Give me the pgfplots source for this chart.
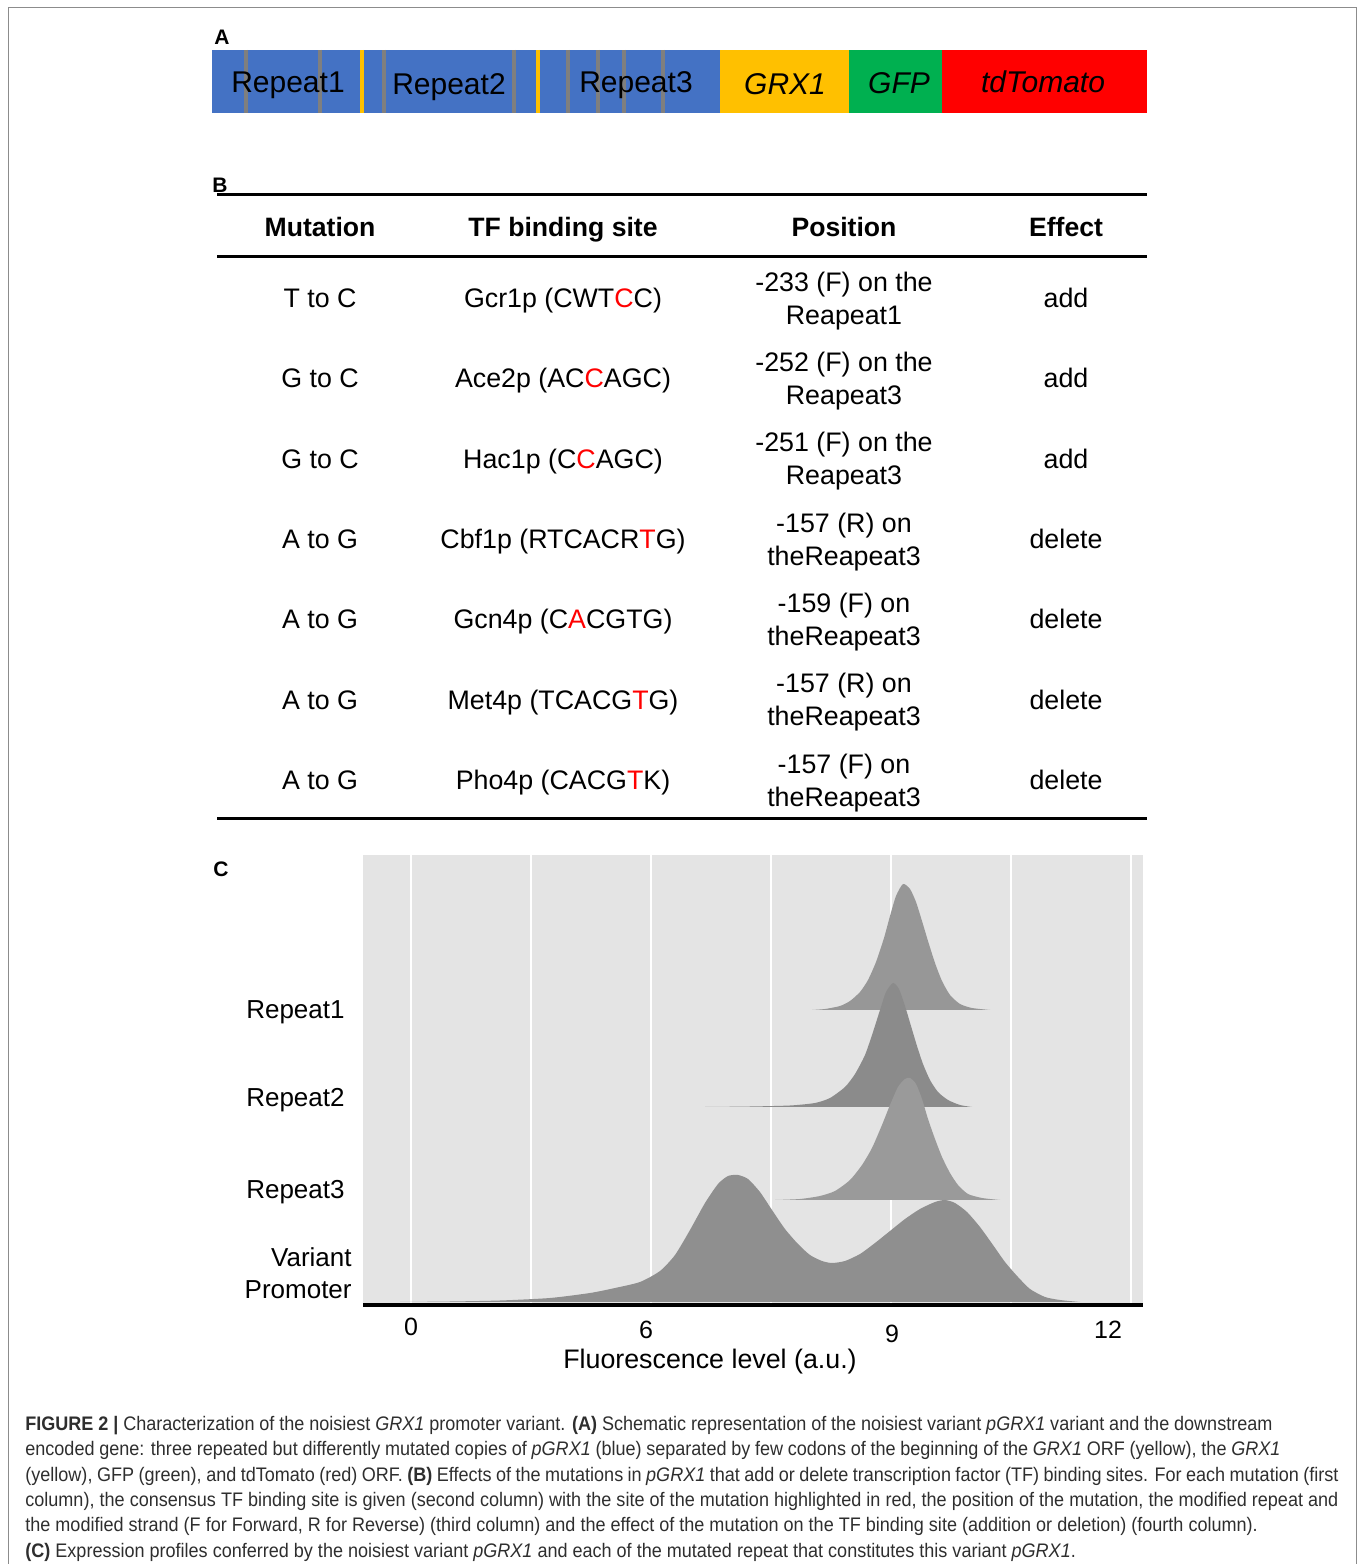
\documentclass[border=0pt]{standalone}
\usepackage{fontspec}
\setmainfont{Liberation Sans}
\newfontfamily\capfont[FakeStretch=0.92]{Liberation Sans}
\usepackage{pgfplots}
\pgfplotsset{compat=1.18}
\usepackage{pgfplotstable}
\definecolor{blueA}{HTML}{4472C4}
\definecolor{yellowA}{HTML}{FFC000}
\definecolor{greenA}{HTML}{00B050}
\definecolor{redA}{HTML}{FF0000}
\definecolor{sepgray}{HTML}{7F7F7F}
\definecolor{ggbg}{HTML}{E4E4E4}
\definecolor{rA}{HTML}{979797}
\definecolor{rB}{HTML}{8B8B8B}
\definecolor{rC}{HTML}{9A9A9A}
\definecolor{rV}{HTML}{8F8F8F}
\definecolor{captxt}{HTML}{2E2E2E}
\definecolor{framegray}{HTML}{8C8C8C}

% ridge densities: x position, height above the ridge baseline
\pgfplotstableread{
x h
812 0
825 1
840 4
850 9
860 18
868 30
876 48
884 72
890 94
896 114
903 126
910 121
916 108
922 89
928 69
935 47
942 29
950 15
960 6
972 2
990 0
}\ridgeA
\pgfplotstableread{
x h
705 0
750 0.5
790 1.5
815 4
830 9
845 20
855 33
865 52
873 75
880 97
886 115
893 124
899 118
905 101
911 81
917 61
923 43
930 27
938 15
948 7
960 2
972 0
}\ridgeB
\pgfplotstableread{
x h
775 0
800 1
820 4
835 9
850 20
862 35
872 52
882 75
890 95
898 113
905 121
910 122
916 116
922 101
928 81
935 61
942 43
950 27
958 15
968 6
982 2
1000 0
}\ridgeC
\pgfplotstableread{
x h
400 0
450 0.5
500 1.5
550 4
590 9
615 14
640 20
660 31
675 47
690 72
705 99
718 118
728 126
738 127
748 123
760 110
772 92
785 73
798 58
810 47
822 41
832 39
845 41
860 48
875 59
890 71
905 83
920 93
935 100
945 102
955 99
967 90
980 75
993 57
1005 40
1018 25
1030 13
1045 5
1060 2
1080 0
}\ridgeV

\tikzset{
  lblA/.style={anchor=base, font=\fontsize{15}{18}\selectfont},
  hdrtxt/.style={anchor=base, font=\fontsize{13.3}{16}\bfseries},
  celltxt/.style={anchor=base, font=\fontsize{13.4}{16}\selectfont},
  plet/.style={anchor=base, font=\fontsize{10.5}{12}\bfseries},
  captext/.style={anchor=base west, inner sep=0pt, text=captxt, font=\capfont\fontsize{9.8}{12}\selectfont},
}

\begin{document}
\begin{tikzpicture}
\begin{scope}[x=0.5pt,y=-0.5pt,yshift=782pt]
\path[use as bounding box] (0,0) rectangle (1360,1564);
\draw[framegray, line width=0.5pt] (8,1564) -- (8,8) -- (1356,8) -- (1356,1564);

% ---------- Panel A ----------
\node[plet] at (222,44.5) {A};
\fill[blueA] (212,50) rectangle (720,113);
\fill[yellowA] (720,50) rectangle (849,113);
\fill[greenA] (849,50) rectangle (942,113);
\fill[redA] (942,50) rectangle (1147,113);
\foreach \gx in {246,320,384,514,568,598,624,663}
  \draw[sepgray, line width=2pt] (\gx,50) -- (\gx,113);
\foreach \yx in {362,538}
  \draw[yellowA, line width=2pt] (\yx,50) -- (\yx,113);
\node[lblA] at (288,93) {Repeat1};
\node[lblA] at (449,95) {Repeat2};
\node[lblA] at (636,93) {Repeat3};
\node[lblA] at (785,95) {\itshape GRX1};
\node[lblA] at (899,94) {\itshape GFP};
\node[lblA] at (1043,93) {\itshape tdTomato};

% ---------- Panel B ----------
\node[plet] at (220,192.5) {B};
\draw[line width=1.5pt] (217,195) -- (1147,195);
\draw[line width=1.5pt] (217,257) -- (1147,257);
\draw[line width=1.5pt] (217,819) -- (1147,819);
\node[hdrtxt] at (320,236.6) {Mutation};
\node[hdrtxt] at (563,236.6) {TF binding site};
\node[hdrtxt] at (844,236.6) {Position};
\node[hdrtxt] at (1066,236.6) {Effect};

\newcommand{\tabrow}[6]{%
  \node[celltxt] at (320,#1+9.7) {#2};
  \node[celltxt] at (563,#1+9.7) {#3};
  \node[celltxt] at (844,#1-6.8) {#4};
  \node[celltxt] at (844,#1+26.2) {#5};
  \node[celltxt] at (1066,#1+9.7) {#6};}
\tabrow{298}{T to C}{Gcr1p (CWT\textcolor{red}{C}C)}{-233 (F) on the}{Reapeat1}{add}
\tabrow{378.3}{G to C}{Ace2p (AC\textcolor{red}{C}AGC)}{-252 (F) on the}{Reapeat3}{add}
\tabrow{458.7}{G to C}{Hac1p (C\textcolor{red}{C}AGC)}{-251 (F) on the}{Reapeat3}{add}
\tabrow{539}{A to G}{Cbf1p (RTCACR\textcolor{red}{T}G)}{-157 (R) on}{theReapeat3}{delete}
\tabrow{619.3}{A to G}{Gcn4p (C\textcolor{red}{A}CGTG)}{-159 (F) on}{theReapeat3}{delete}
\tabrow{699.7}{A to G}{Met4p (TCACG\textcolor{red}{T}G)}{-157 (R) on}{theReapeat3}{delete}
\tabrow{780}{A to G}{Pho4p (CACG\textcolor{red}{T}K)}{-157 (F) on}{theReapeat3}{delete}

% ---------- Panel C labels ----------
\node[plet] at (221,876.5) {C};
\begin{scope}[every node/.style={inner sep=0pt, font=\fontsize{13}{16}\selectfont}]
\node[anchor=base east] at (345,1019) {Repeat1};
\node[anchor=base east] at (345,1107) {Repeat2};
\node[anchor=base east] at (345,1199) {Repeat3};
\node[anchor=base east] at (352,1267) {Variant};
\node[anchor=base east] at (352,1299) {Promoter};
\end{scope}
\begin{scope}[every node/.style={anchor=base, font=\fontsize{12.5}{15}\selectfont}]
\node at (411,1336) {0};
\node at (646,1339) {6};
\node at (892,1343) {9};
\node at (1108,1339) {12};
\end{scope}
\node[anchor=base, font=\fontsize{13.4}{16}\selectfont] at (710,1369) {Fluorescence level (a.u.)};

% ---------- Caption ----------
\node[captext] at (25,1430.5) {\makebox[623.5pt][s]{\textbf{FIGURE 2 |} Characterization of the noisiest \textit{GRX1} promoter variant. \textbf{(A)} Schematic representation of the noisiest variant \textit{pGRX1} variant and the downstream}};
\node[captext] at (25,1455.5) {\makebox[627.5pt][s]{encoded gene: three repeated but differently mutated copies of \textit{pGRX1} (blue) separated by few codons of the beginning of the \textit{GRX1} ORF (yellow), the \textit{GRX1}}};
\node[captext] at (25,1481.5) {\makebox[656.5pt][s]{(yellow), GFP (green), and tdTomato (red) ORF. \textbf{(B)} Effects of the mutations in \textit{pGRX1} that add or delete transcription factor (TF) binding sites. For each mutation (first}};
\node[captext] at (25,1506.5) {\makebox[656.5pt][s]{column), the consensus TF binding site is given (second column) with the site of the mutation highlighted in red, the position of the mutation, the modified repeat and}};
\node[captext] at (25,1531.5) {the modified strand (F for Forward, R for Reverse) (third column) and the effect of the mutation on the TF binding site (addition or deletion) (fourth column).};
\node[captext] at (25,1557.5) {\textbf{(C)} Expression profiles conferred by the noisiest variant \textit{pGRX1} and each of the mutated repeat that constitutes this variant \textit{pGRX1}.};
\end{scope}

% ---------- Panel C ridgeline plot ----------
\begin{axis}[
  at={(181.5pt,129.5pt)}, anchor=south west,
  scale only axis, width=390pt, height=225pt,
  xmin=363, xmax=1143, ymin=0, ymax=450,
  axis x line*=bottom, axis y line=none,
  x axis line style={-, line width=2pt, black},
  axis background/.style={fill=ggbg},
  xtick={411,531,651,771,891,1011,1131},
  ytick={105,198,295},
  xticklabels={}, yticklabels={},
  xmajorgrids, ymajorgrids,
  x grid style={white, line width=1.3pt},
  y grid style={white, line width=0.8pt},
  major tick length=0pt,
]
\addplot[fill=rA, draw=none, smooth, tension=0.4] table[x=x, y expr=\thisrow{h}+295] {\ridgeA} -- cycle;
\addplot[fill=rB, draw=none, smooth, tension=0.4] table[x=x, y expr=\thisrow{h}+198] {\ridgeB} -- cycle;
\addplot[fill=rC, draw=none, smooth, tension=0.4] table[x=x, y expr=\thisrow{h}+105] {\ridgeC} -- cycle;
\addplot[fill=rV, draw=none, smooth, tension=0.4] table[x=x, y expr=\thisrow{h}+3] {\ridgeV} -- cycle;
\end{axis}
\end{tikzpicture}
\end{document}
